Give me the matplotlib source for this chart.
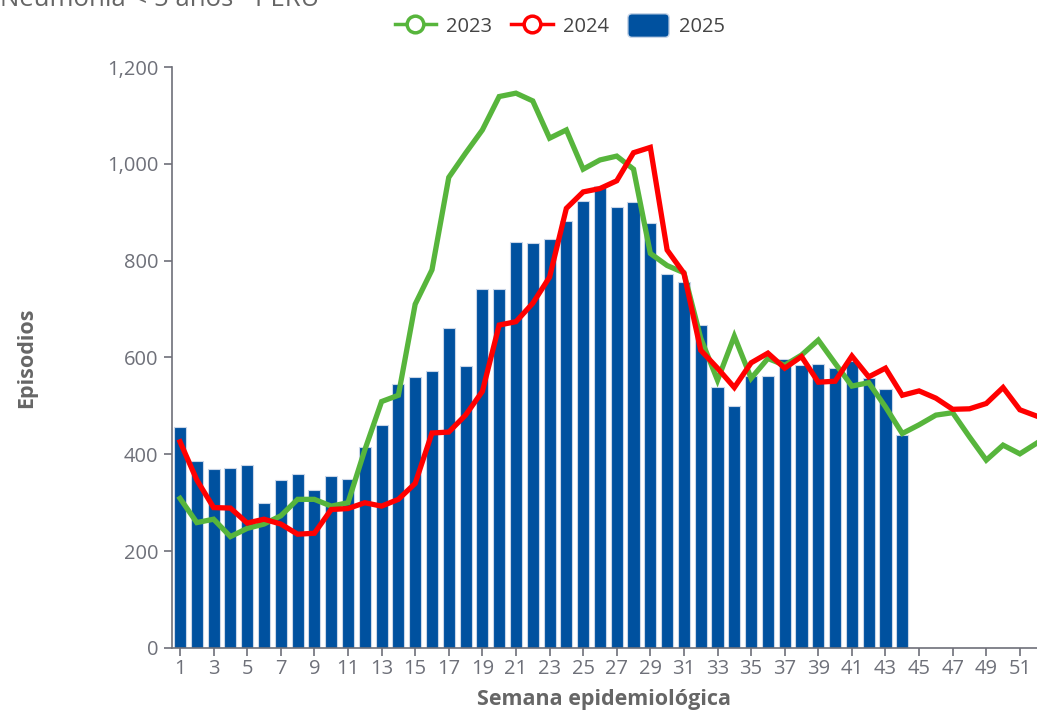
import matplotlib.pyplot as plt
from matplotlib.lines import Line2D
from matplotlib.patches import Patch, FancyBboxPatch
from matplotlib.legend_handler import HandlerPatch

plt.rcParams['font.family'] = ['Open Sans', 'DejaVu Sans']

# weekly episodes
weeks = list(range(1, 53))
y2023 = [309, 259, 266, 230, 247, 256, 273, 307, 307, 293, 300, 409, 509, 522, 710, 781,
         972, 1022, 1070, 1139, 1146, 1130, 1053, 1070, 989, 1008, 1016, 989, 815, 790,
         775, 640, 553, 644, 557, 598, 584, 605, 636, 588, 541, 548, 498, 443, 461, 481,
         486, 436, 388, 419, 401, 423]
y2024 = [426, 347, 290, 289, 258, 266, 256, 235, 237, 286, 288, 300, 293, 307, 340, 444,
         446, 481, 530, 667, 674, 712, 766, 908, 942, 949, 965, 1023, 1034, 822, 774,
         615, 578, 538, 589, 609, 578, 602, 549, 551, 603, 560, 578, 522, 531, 516, 493,
         494, 505, 538, 492, 479]
weeks_2025 = list(range(1, 45))
y2025 = [457, 387, 369, 372, 377, 299, 346, 359, 326, 355, 349, 415, 461, 545, 560, 573,
         660, 583, 741, 741, 838, 836, 845, 882, 924, 955, 911, 922, 877, 773, 755, 668,
         540, 500, 562, 562, 596, 584, 586, 578, 593, 557, 535, 440]

c_green = '#57b53c'
c_red = '#ff0000'
c_blue = '#00519f'
c_axis = '#6e7079'
c_text = '#666666'

fig = plt.figure(figsize=(10.37, 7.13), dpi=100)
ax = fig.add_axes([0.1655, 0.0912, 0.8345, 0.8148])

ax.bar(weeks_2025, y2025, width=0.72, color=c_blue, edgecolor='#c9d6e8', linewidth=0.8, zorder=2)
ax.plot(weeks, y2023, color=c_green, linewidth=3.8, zorder=3, solid_joinstyle='miter')
ax.plot(weeks, y2024, color=c_red, linewidth=3.8, zorder=4, solid_joinstyle='miter')

ax.set_xlim(0.5, 52.02)
ax.set_ylim(0, 1200)
ax.set_xticks(range(1, 53, 2))
ax.set_yticks(range(0, 1201, 200))
ax.set_yticklabels([f'{v:,}' for v in range(0, 1201, 200)])
ax.tick_params(axis='both', colors=c_axis, labelcolor=c_axis, labelsize=14.5, length=6, width=1.2)
ax.tick_params(axis='x', pad=2)
for side in ['top', 'right']:
    ax.spines[side].set_visible(False)
for side in ['left', 'bottom']:
    ax.spines[side].set_color(c_axis)
    ax.spines[side].set_linewidth(1.2)

ax.set_xlabel('Semana epidemiológica', fontsize=15.5, fontweight='bold', color=c_text, labelpad=7)
ax.set_ylabel('Episodios', fontsize=15.5, fontweight='bold', color=c_text, labelpad=50)

fig.text(0.0, 1 - 6 / 713, 'Neumonía < 5 años - PERU', fontsize=18.5, color=c_text,
         ha='left', va='baseline')


def rounded_patch(legend, orig_handle, xdescent, ydescent, width, height, fontsize):
    return FancyBboxPatch((-xdescent, -ydescent - 2), width, height + 4,
                          boxstyle='round,pad=0,rounding_size=3')


handles = [
    Line2D([], [], color=c_green, linewidth=2.5, marker='o', markersize=12,
           markerfacecolor='white', markeredgewidth=2.5),
    Line2D([], [], color=c_red, linewidth=2.5, marker='o', markersize=12,
           markerfacecolor='white', markeredgewidth=2.5),
    Patch(facecolor=c_blue, edgecolor='#c9d6e8'),
]
fig.legend(handles, ['2023', '2024', '2025'], loc='center', bbox_to_anchor=(0.540, 1 - 27 / 713),
           ncol=3, frameon=False, fontsize=14.5, handlelength=2.05, handleheight=1.0,
           columnspacing=0.95, handletextpad=0.5, labelcolor='#444444',
           handler_map={Patch: HandlerPatch(patch_func=rounded_patch)})

fig.savefig('out.png', dpi=100)
